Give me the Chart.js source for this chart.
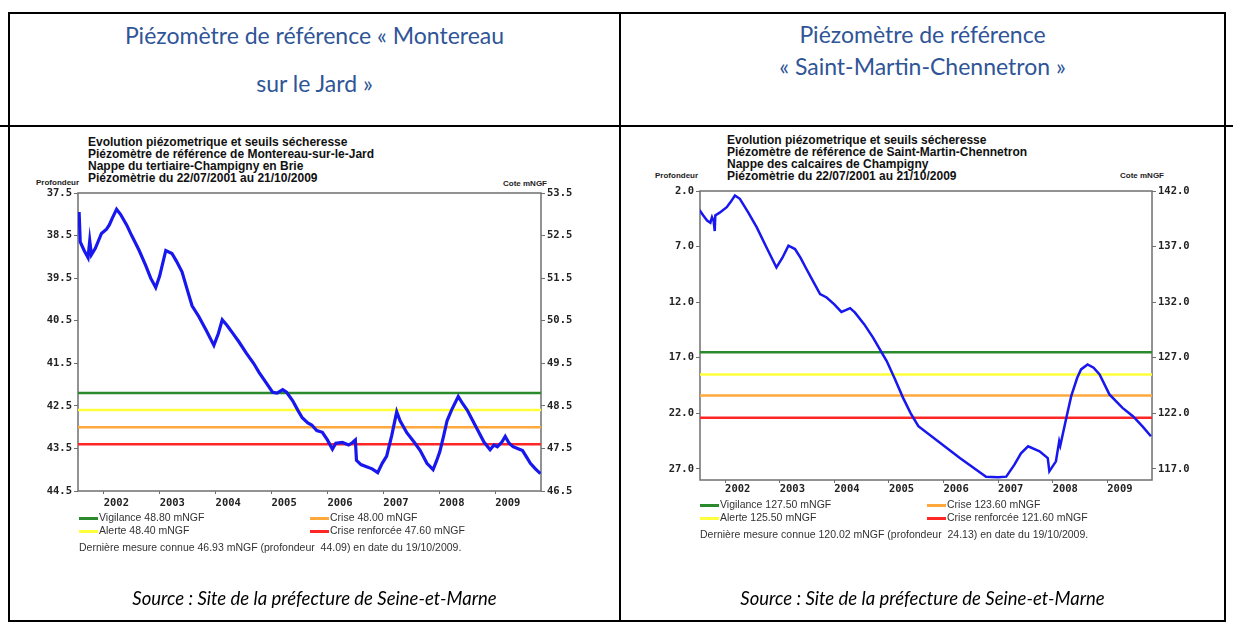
<!DOCTYPE html>
<html>
<head>
<meta charset="utf-8">
<script src="https://cdn.jsdelivr.net/npm/chart.js@4.4.0/dist/chart.umd.min.js"></script>
<style>
    body { margin: 0; width: 1233px; height: 628px; position: relative; background: #fff; overflow: hidden; }
    .rule { position: absolute; background: #000; }
    .hdr { position: absolute; color: #2f5597; font-family: Lato, "Noto Sans", sans-serif; font-size: 23px; text-align: center; line-height: 23px; }
    .ttl { position: absolute; font: bold 12px "Liberation Sans", Arial, sans-serif; line-height: 12px; color: #111; white-space: pre; }
    .axt { position: absolute; font: bold 8px "Liberation Sans", Arial, sans-serif; color: #222; white-space: pre; }
    .leg { position: absolute; font: 10.5px "Liberation Sans", Arial, sans-serif; color: #333; white-space: pre; }
    .leg i { display: inline-block; width: 19px; height: 3px; vertical-align: middle; margin-right: 1px; }
    .src { position: absolute; font-family: Lato, "Noto Sans", sans-serif; font-style: italic; font-size: 18.5px; text-align: center; color: #000; line-height: 20px; }
    canvas { position: absolute; }
</style>
</head>
<body>

<div class="rule" style="left:8px;top:12px;width:1218px;height:2px"></div>
<div class="rule" style="left:8px;top:12px;width:2px;height:610px"></div>
<div class="rule" style="left:619px;top:12px;width:2px;height:610px"></div>
<div class="rule" style="left:1224px;top:12px;width:2px;height:610px"></div>
<div class="rule" style="left:0px;top:125px;width:1233px;height:2px"></div>
<div class="rule" style="left:8px;top:620px;width:1218px;height:2px"></div>

<div class="hdr" style="left:10px;top:24px;width:609px">Piézomètre de référence « Montereau</div>
<div class="hdr" style="left:10px;top:72px;width:609px">sur le Jard »</div>
<div class="hdr" style="left:621px;top:23px;width:603px">Piézomètre de référence</div>
<div class="hdr" style="left:621px;top:55px;width:603px">« Saint-Martin-Chennetron »</div>

<div class="ttl" style="left:88px;top:136px">Evolution piézometrique et seuils sécheresse
Piézomètre de référence de Montereau-sur-le-Jard
Nappe du tertiaire-Champigny en Brie
Piézomètrie du 22/07/2001 au 21/10/2009</div>
<div class="axt" style="left:36px;top:178px">Profondeur</div>
<div class="axt" style="left:503px;top:179px">Cote mNGF</div>

<div class="ttl" style="left:727px;top:134px">Evolution piézometrique et seuils sécheresse
Piézomètre de référence de Saint-Martin-Chennetron
Nappe des calcaires de Champigny
Piézomètrie du 22/07/2001 au 21/10/2009</div>
<div class="axt" style="left:655px;top:171px">Profondeur</div>
<div class="axt" style="left:1120px;top:171px">Cote mNGF</div>

<canvas id="chartMon" width="610" height="492" style="left:9px;top:127px"></canvas>
<canvas id="chartSmc" width="603" height="492" style="left:621px;top:127px"></canvas>

<div id="legMon"></div>
<div id="legSmc"></div>

<div class="src" style="left:10px;top:588px;width:609px">Source : Site de la préfecture de Seine-et-Marne</div>
<div class="src" style="left:621px;top:588px;width:603px">Source : Site de la préfecture de Seine-et-Marne</div>

<script>
// shared
const yearTicks = [2002, 2003, 2004, 2005, 2006, 2007, 2008, 2009];
const thresholdNames = ['Vigilance', 'Alerte', 'Crise', 'Crise renforcée'];
const thresholdColors = ['#2b8a2b', '#ffff3c', '#ffa83c', '#ff2626'];
const dateStart = 2001.54;   // 22/07/2001
const dateEnd = 2009.82;     // 21/10/2009

// Montereau-sur-le-Jard (profondeur, m)
const monYears = [2001.55, 2001.56, 2001.58, 2001.65, 2001.72, 2001.75, 2001.78, 2001.85, 2001.96, 2002.05,
    2002.10, 2002.15, 2002.23, 2002.30, 2002.41, 2002.50, 2002.63, 2002.75, 2002.84, 2002.93,
    2003.00, 2003.11, 2003.22, 2003.30, 2003.40, 2003.50, 2003.58, 2003.70, 2003.83, 2003.97,
    2004.05, 2004.12, 2004.20, 2004.30, 2004.42, 2004.55, 2004.68, 2004.78, 2004.90, 2005.02,
    2005.10, 2005.20, 2005.27, 2005.38, 2005.47, 2005.55, 2005.65, 2005.72, 2005.81, 2005.91,
    2006.00, 2006.09, 2006.15, 2006.27, 2006.38, 2006.45, 2006.50, 2006.52, 2006.60, 2006.70,
    2006.80, 2006.90, 2006.98, 2007.06, 2007.15, 2007.24, 2007.30, 2007.42, 2007.55, 2007.66,
    2007.78, 2007.89, 2007.95, 2008.01, 2008.08, 2008.14, 2008.22, 2008.34, 2008.42, 2008.50,
    2008.60, 2008.68, 2008.80, 2008.91, 2008.98, 2009.04, 2009.12, 2009.18, 2009.25, 2009.32,
    2009.40, 2009.49, 2009.56, 2009.63, 2009.72, 2009.81];
const monDepth = [38.15, 37.95, 38.65, 38.85, 39.02, 38.62, 38.95, 38.80, 38.45, 38.35,
    38.25, 38.10, 37.88, 38.00, 38.25, 38.50, 38.84, 39.20, 39.50, 39.72,
    39.45, 38.85, 38.92, 39.10, 39.35, 39.80, 40.15, 40.40, 40.72, 41.08,
    40.80, 40.48, 40.60, 40.78, 41.00, 41.26, 41.50, 41.72, 41.95, 42.18,
    42.20, 42.12, 42.18, 42.38, 42.60, 42.78, 42.90, 42.95, 43.08, 43.12,
    43.30, 43.52, 43.38, 43.36, 43.42, 43.36, 43.30, 43.78, 43.88, 43.93,
    43.98, 44.07, 43.85, 43.68, 43.20, 42.64, 42.85, 43.13, 43.35, 43.55,
    43.85, 44.00, 43.80, 43.58, 43.20, 42.85, 42.60, 42.28, 42.45, 42.60,
    42.85, 43.05, 43.35, 43.53, 43.42, 43.46, 43.35, 43.22, 43.38, 43.46,
    43.50, 43.55, 43.70, 43.85, 43.98, 44.09];
const monThresholds = [48.80, 48.40, 48.00, 47.60];   // mNGF
const monDepthTicks = [37.5, 38.5, 39.5, 40.5, 41.5, 42.5, 43.5, 44.5];
const monCoteTicks = [53.5, 52.5, 51.5, 50.5, 49.5, 48.5, 47.5, 46.5];
const monLast = 'Dernière mesure connue 46.93 mNGF (profondeur  44.09) en date du 19/10/2009.';

// Saint-Martin-Chennetron (profondeur, m)
const smcYears = [2001.53, 2001.60, 2001.67, 2001.73, 2001.76, 2001.79, 2001.81, 2001.82, 2001.90, 2002.03,
    2002.10, 2002.18, 2002.27, 2002.42, 2002.58, 2002.75, 2002.94, 2003.05, 2003.16, 2003.28,
    2003.38, 2003.49, 2003.62, 2003.74, 2003.86, 2004.00, 2004.13, 2004.22, 2004.29, 2004.38,
    2004.55, 2004.71, 2004.96, 2005.10, 2005.26, 2005.40, 2005.54, 2006.30, 2006.78, 2007.00,
    2007.15, 2007.30, 2007.42, 2007.55, 2007.76, 2007.91, 2007.94, 2008.06, 2008.12, 2008.14,
    2008.25, 2008.34, 2008.45, 2008.52, 2008.64, 2008.75, 2008.86, 2009.04, 2009.28, 2009.47,
    2009.65, 2009.80];
const smcDepth = [3.70, 4.20, 4.66, 4.85, 4.35, 4.70, 5.60, 4.20, 3.95, 3.46,
    3.00, 2.40, 2.70, 3.90, 5.27, 7.00, 8.88, 8.00, 6.92, 7.22,
    8.00, 9.02, 10.20, 11.28, 11.58, 12.20, 12.88, 12.70, 12.54, 12.94,
    14.00, 15.19, 17.30, 18.80, 20.61, 22.00, 23.16, 26.03, 27.70, 27.75,
    27.70, 26.62, 25.60, 24.97, 25.42, 26.03, 27.22, 26.32, 24.52, 24.90,
    22.42, 20.46, 18.80, 18.05, 17.60, 17.90, 18.50, 20.30, 21.51, 22.26,
    23.20, 24.07];
const smcThresholds = [127.50, 125.50, 123.60, 121.60];   // mNGF
const smcDepthTicks = [2, 7, 12, 17, 22, 27];
const smcCoteTicks = [142, 137, 132, 127, 122, 117];
const smcLast = 'Dernière mesure connue 120.02 mNGF (profondeur  24.13) en date du 19/10/2009.';

const tickFont = { family: '"DejaVu Sans Mono", monospace', size: 10.5, weight: 'bold' };

const framePlugin = {
    id: 'frame',
    beforeDatasetsDraw(chart) {
        const { ctx, chartArea: c } = chart;
        ctx.save();
        ctx.strokeStyle = '#6f6f6f';
        ctx.lineWidth = 1.5;
        ctx.strokeRect(c.left, c.top, c.right - c.left, c.bottom - c.top);
        ctx.restore();
    }
};

function fixedTicks(values) {
    return function (scale) { scale.ticks = values.map(v => ({ value: v })); };
}

function makePiezo(id, opt) {
    const canvas = document.getElementById(id);
    const W = canvas.width, H = canvas.height;
    const a = opt.area;
    const axisW = 42, axisH = 22;

    const datasets = [{
        data: opt.years.map((x, i) => ({ x: x, y: opt.depth[i] })),
        yAxisID: 'y',
        borderColor: '#1717ee',
        borderWidth: opt.lineWidth,
        pointRadius: 0,
        tension: 0,
        order: 0
    }];
    opt.thresholds.forEach((v, i) => {
        datasets.push({
            data: [{ x: dateStart, y: v }, { x: dateEnd, y: v }],
            yAxisID: 'y2',
            borderColor: thresholdColors[i],
            borderWidth: 2.5,
            pointRadius: 0,
            order: 1
        });
    });

    const yAxis = (ticks, min, max, pos, reverse) => ({
        type: 'linear',
        position: pos,
        reverse: reverse,
        min: min,
        max: max,
        afterBuildTicks: fixedTicks(ticks),
        afterFit: s => { s.width = axisW; },
        border: { display: false },
        grid: { drawOnChartArea: false, tickLength: 4, color: '#6f6f6f' },
        ticks: { font: tickFont, color: '#222', padding: 2, autoSkip: false, callback: v => v.toFixed(1) }
    });

    return new Chart(canvas, {
        type: 'line',
        data: { datasets: datasets },
        options: {
            responsive: false,
            animation: false,
            layout: { padding: { left: a.left - axisW, right: W - a.right - axisW, top: a.top, bottom: H - a.bottom - axisH } },
            plugins: { legend: { display: false }, tooltip: { enabled: false } },
            scales: {
                x: {
                    type: 'linear',
                    min: dateStart,
                    max: dateEnd,
                    afterBuildTicks: fixedTicks(yearTicks),
                    afterFit: s => { s.height = axisH; },
                    border: { display: false },
                    grid: { drawOnChartArea: false, tickLength: 3, color: '#6f6f6f' },
                    ticks: { font: tickFont, color: '#222', padding: opt.xPad, align: 'start', maxRotation: 0, autoSkip: false, callback: v => String(v) }
                },
                y: yAxis(opt.depthTicks, opt.depthMin, opt.depthMax, 'left', true),
                y2: yAxis(opt.coteTicks, opt.coteMin, opt.coteMax, 'right', false)
            }
        },
        plugins: [framePlugin]
    });
}

function makeLegend(id, x, y, colX, thresholds, lastText) {
    const box = document.getElementById(id);
    thresholds.forEach((v, i) => {
        const d = document.createElement('div');
        d.className = 'leg';
        d.style.left = (x + Math.floor(i / 2) * colX) + 'px';
        d.style.top = (y + (i % 2) * 13) + 'px';
        d.innerHTML = '<i style="background:' + thresholdColors[i] + '"></i>' + thresholdNames[i] + ' ' + v.toFixed(2) + ' mNGF';
        box.appendChild(d);
    });
    const last = document.createElement('div');
    last.className = 'leg';
    last.style.left = x + 'px';
    last.style.top = (y + 30) + 'px';
    last.textContent = lastText;
    box.appendChild(last);
}

makePiezo('chartMon', {
    area: { left: 69, right: 532, top: 66, bottom: 364 },
    years: monYears, depth: monDepth, thresholds: monThresholds, lineWidth: 3.2, xPad: 3,
    depthTicks: monDepthTicks, depthMin: 37.5, depthMax: 44.5,
    coteTicks: monCoteTicks, coteMin: 46.5, coteMax: 53.5
});
makePiezo('chartSmc', {
    area: { left: 79, right: 531, top: 64, bottom: 353 },
    years: smcYears, depth: smcDepth, thresholds: smcThresholds, lineWidth: 2.5, xPad: 0,
    depthTicks: smcDepthTicks, depthMin: 2, depthMax: 28,
    coteTicks: smcCoteTicks, coteMin: 116, coteMax: 142
});

makeLegend('legMon', 79, 511, 231, monThresholds, monLast);
makeLegend('legSmc', 700, 498, 227, smcThresholds, smcLast);
</script>
</body>
</html>
